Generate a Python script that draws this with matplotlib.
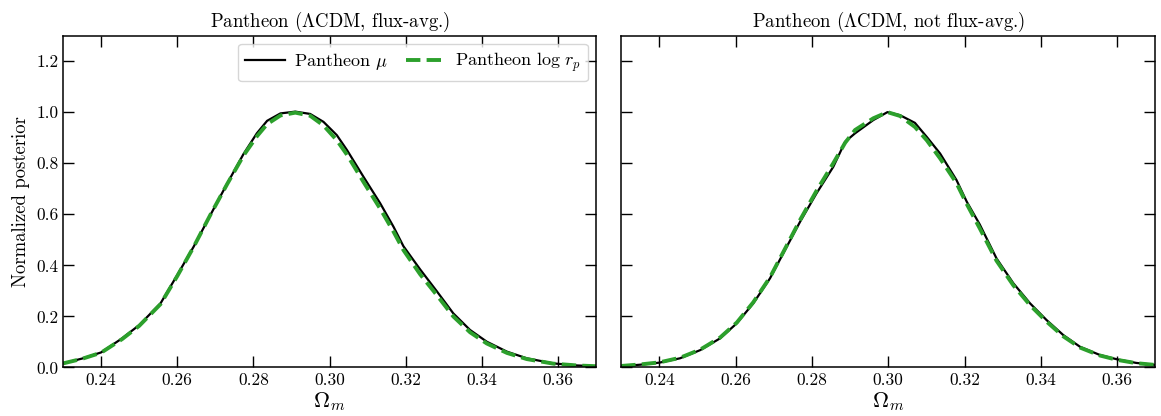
import matplotlib
matplotlib.use("Agg")
import matplotlib.pyplot as plt
import numpy as np

plt.rcParams['font.family'] = 'cmr10'
plt.rcParams['mathtext.fontset'] = 'cm'
plt.rcParams['axes.formatter.use_mathtext'] = True
plt.rcParams['axes.unicode_minus'] = False

# values
# left panel (flux-averaged)
om_l = [0.2300, 0.2350, 0.2400, 0.2455, 0.2500, 0.2556, 0.2600, 0.2643, 0.2687, 0.2731,
        0.2774, 0.2809, 0.2836, 0.2871, 0.2910, 0.2949, 0.2984, 0.3019, 0.3046, 0.3089,
        0.3133, 0.3168, 0.3194, 0.3238, 0.3282, 0.3325, 0.3369, 0.3413, 0.3466, 0.3518,
        0.3588, 0.3650, 0.3700]
mu_l = [0.016, 0.035, 0.059, 0.114, 0.166, 0.251, 0.362, 0.473, 0.597, 0.720,
        0.836, 0.917, 0.966, 0.995, 1.002, 0.993, 0.962, 0.910, 0.851, 0.747,
        0.643, 0.551, 0.475, 0.384, 0.298, 0.212, 0.147, 0.101, 0.062, 0.036,
        0.016, 0.008, 0.005]
rp_l = [0.016, 0.034, 0.058, 0.111, 0.163, 0.248, 0.358, 0.472, 0.598, 0.718,
        0.830, 0.905, 0.953, 0.987, 0.998, 0.986, 0.948, 0.890, 0.833, 0.727,
        0.622, 0.532, 0.460, 0.365, 0.283, 0.200, 0.138, 0.094, 0.057, 0.033,
        0.015, 0.008, 0.005]

# right panel (not flux-averaged)
om_r = [0.2300, 0.2350, 0.2400, 0.2454, 0.2507, 0.2559, 0.2603, 0.2646, 0.2690, 0.2734,
        0.2769, 0.2812, 0.2856, 0.2887, 0.2913, 0.2961, 0.2998, 0.3031, 0.3070, 0.3101,
        0.3136, 0.3179, 0.3206, 0.3240, 0.3284, 0.3328, 0.3372, 0.3415, 0.3459, 0.3503,
        0.3555, 0.3600, 0.3650, 0.3700]
mu_r = [0.005, 0.011, 0.019, 0.036, 0.068, 0.114, 0.173, 0.251, 0.349, 0.473,
        0.571, 0.682, 0.786, 0.884, 0.917, 0.969, 1.000, 0.988, 0.958, 0.903,
        0.838, 0.734, 0.649, 0.560, 0.427, 0.330, 0.251, 0.186, 0.127, 0.081,
        0.049, 0.032, 0.018, 0.010]
rp_r = [0.006, 0.012, 0.020, 0.038, 0.070, 0.117, 0.176, 0.255, 0.353, 0.478,
        0.578, 0.692, 0.800, 0.880, 0.930, 0.976, 1.000, 0.985, 0.942, 0.890,
        0.819, 0.722, 0.640, 0.545, 0.418, 0.322, 0.244, 0.180, 0.122, 0.078,
        0.047, 0.030, 0.017, 0.010]

titles = [r'Pantheon ($\Lambda$CDM, flux-avg.)', r'Pantheon ($\Lambda$CDM, not flux-avg.)']
xticks = [0.24, 0.26, 0.28, 0.30, 0.32, 0.34, 0.36]
yticks = [0.0, 0.2, 0.4, 0.6, 0.8, 1.0, 1.2]
green = '#2ca02c'

fig = plt.figure(figsize=(11.61, 4.16), dpi=100)
ax1 = fig.add_axes([0.0543, 0.1166, 0.4591, 0.798])
ax2 = fig.add_axes([0.5351, 0.1166, 0.4599, 0.798], sharey=ax1)

for ax, om, mu, rp, title in [(ax1, om_l, mu_l, rp_l, titles[0]),
                              (ax2, om_r, mu_r, rp_r, titles[1])]:
    ax.plot(om, mu, color='k', lw=1.6, label=r'Pantheon $\mu$')
    ax.plot(om, rp, color=green, lw=2.8, ls='--', label=r'Pantheon $\log\,r_p$')
    ax.set_xlim(0.23, 0.37)
    ax.set_ylim(0, 1.3)
    ax.set_xticks(xticks)
    ax.set_yticks(yticks)
    ax.tick_params(direction='in', top=True, right=True, length=8, width=1,
                   labelsize=12.5)
    for s in ax.spines.values():
        s.set_linewidth(1.1)
    ax.set_title(title, fontsize=13.5)
    ax.set_xlabel(r'$\Omega_m$', fontsize=16, labelpad=2)
    ax.xaxis.set_major_formatter(plt.FormatStrFormatter('%.2f'))

ax1.yaxis.set_major_formatter(plt.FormatStrFormatter('%.1f'))
ax2.tick_params(labelleft=False)
ax1.set_ylabel('Normalized posterior', fontsize=13.5)
ax1.legend(loc='upper right', ncol=2, fontsize=13, handlelength=2.2,
           handletextpad=0.5, columnspacing=1.0, borderaxespad=0.45)

fig.savefig('out.png', dpi=100)
